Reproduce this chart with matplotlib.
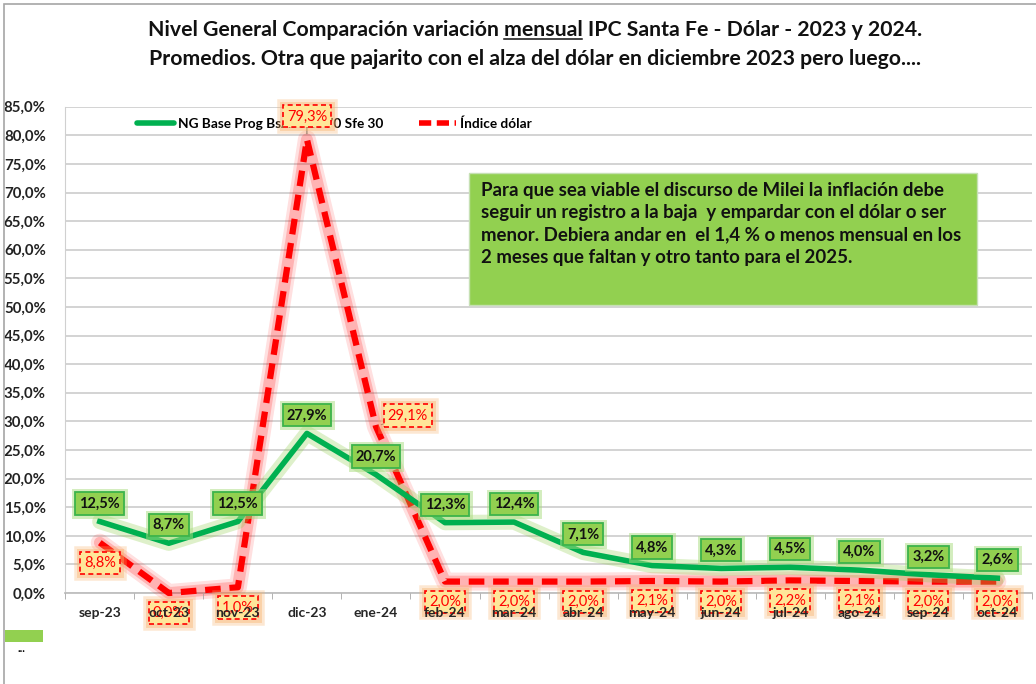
import matplotlib
matplotlib.use("Agg")
import matplotlib.pyplot as plt
import matplotlib.patheffects as pe
from matplotlib.lines import Line2D
from matplotlib.patches import Rectangle

plt.rcParams['font.family'] = ['Lato', 'DejaVu Sans']

# DATA
meses = ["sep-23", "oct-23", "nov-23", "dic-23", "ene-24", "feb-24", "mar-24",
         "abr-24", "may-24", "jun-24", "jul-24", "ago-24", "sep-24", "oct-24"]
ng_base = [12.5, 8.7, 12.5, 27.9, 20.7, 12.3, 12.4, 7.1, 4.8, 4.3, 4.5, 4.0, 3.2, 2.6]
indice_dolar = [8.8, 0.0, 1.0, 79.3, 29.1, 2.0, 2.0, 2.0, 2.1, 2.0, 2.2, 2.1, 2.0, 2.0]
y_ticks = list(range(0, 90, 5))

titulo_1a = "Nivel General Comparación variación "
titulo_1b = "mensual"
titulo_1c = " IPC Santa Fe - Dólar - 2023 y 2024."
titulo_2 = "Promedios. Otra que pajarito con el alza del dólar en diciembre 2023 pero luego...."
nota = ("Para que sea viable el discurso de Milei la inflación debe\n"
        "seguir un registro a la baja  y empardar con el dólar o ser\n"
        "menor. Debiera andar en  el 1,4 % o menos mensual en los\n"
        "2 meses que faltan y otro tanto para el 2025.")


def fmt(v):
    return f"{v:.1f}".replace(".", ",") + "%"


fig = plt.figure(figsize=(10.36, 6.84), dpi=100)
ax = fig.add_axes([0.063, 0.133, 0.933, 0.711])
x = list(range(len(meses)))

# outer chart border
fig.patches.append(Rectangle((4 / 1036, -0.05), 1.2, 1 - 4 / 684 + 0.05, transform=fig.transFigure,
                             fill=False, edgecolor='#A6A6A6', linewidth=1.2))

# lines with soft glow (glow drawn as separate solid lines)
ax.plot(x, indice_dolar, color='#FF0000', linewidth=13, alpha=0.12, clip_on=False, zorder=3,
        solid_joinstyle='round', solid_capstyle='round')
ax.plot(x, indice_dolar, color='#FF0000', linewidth=8.5, alpha=0.2, clip_on=False, zorder=3,
        solid_joinstyle='round', solid_capstyle='round')
ax.plot(x, indice_dolar, color='#FF0000', linewidth=4.5, dashes=(2.5, 1.4), clip_on=False, zorder=4)
ax.plot(x, ng_base, color='#92D050', linewidth=11, alpha=0.3, clip_on=False, zorder=4.5,
        solid_joinstyle='round', solid_capstyle='round')
ax.plot(x, ng_base, color='#00B050', linewidth=4, clip_on=False, zorder=5)

# green labels
for xi, v in zip(x, ng_base):
    a = ax.annotate(fmt(v), (xi, v), xytext=(0, 13), textcoords='offset points', ha='center', va='center',
                    fontsize=10.5, fontweight='bold', color='#111111', zorder=8,
                    bbox=dict(boxstyle='square,pad=0.28', fc='#92D050', ec='#3CB44B', lw=1.3))
    a.get_bbox_patch().set_path_effects([pe.Stroke(linewidth=5, foreground='#A9DC7E', alpha=0.5),
                                         pe.Normal()])

# red labels
red_offsets = {3: (0, 16.5), 4: (23, 8)}
solid = dict(dash_offset=0, dash_list=None)
for xi, v in zip(x, indice_dolar):
    off = red_offsets.get(xi, (0, -14.5))
    kw = {}
    if xi in red_offsets:
        kw['arrowprops'] = dict(arrowstyle='-', color='#595959', lw=0.7, shrinkA=0, shrinkB=4)
    a = ax.annotate(fmt(v), (xi, v), xytext=off, textcoords='offset points', ha='center', va='center',
                    fontsize=10.5, color='#FF0000', zorder=6, annotation_clip=False,
                    bbox=dict(boxstyle='square,pad=0.28', fc='#FFE699', ec='#FF0000', lw=1.2,
                              ls=(0, (3, 2))),
                    **kw)
    a.get_bbox_patch().set_path_effects([pe.Stroke(linewidth=9, foreground='#F8B26A', alpha=0.3,
                                                   dashes=solid),
                                         pe.Stroke(linewidth=5, foreground='#F8B26A', alpha=0.4,
                                                   dashes=solid),
                                         pe.Normal()])

# axes styling
ax.set_xlim(-0.5, len(meses) - 0.5)
ax.set_ylim(0, 85)
ax.set_yticks(y_ticks)
ax.set_yticklabels([fmt(t) for t in y_ticks], fontsize=10.8, fontweight='bold', color='#222222')
ax.set_xticks(x)
ax.set_xticklabels(meses, fontsize=10, fontweight='bold', color='#262626')
ax.set_xticks([i - 0.5 for i in range(len(meses) + 1)], minor=True)
ax.tick_params(axis='x', which='major', length=0, pad=10)
ax.tick_params(axis='x', which='minor', length=4, color='#A6A6A6')
ax.tick_params(axis='y', length=0, pad=14)
ax.yaxis.grid(True, color='#D0D0D0', linewidth=1.3)
ax.set_axisbelow(True)
ax.xaxis.set_zorder(10)
for s in ['top', 'right']:
    ax.spines[s].set_visible(False)
ax.spines['left'].set_color('#D0D0D0')
ax.spines['bottom'].set_color('#BFBFBF')
ax.spines['bottom'].set_linewidth(1.3)

# legend
handles = [Line2D([], [], color='#00B050', lw=4, solid_capstyle='round'),
           Line2D([], [], color='#FF0000', lw=4, dashes=(2.2, 1.0))]
ax.legend(handles, ["NG Base Prog BsAs Ros 70 Sfe 30", "Índice dólar"], ncol=2, frameon=False,
          loc='center left', bbox_to_anchor=(0.062, 0.965), handlelength=2.7, handletextpad=0.3,
          columnspacing=2.6, prop=dict(size=9.8, weight='bold'))

# note box
ax.add_patch(Rectangle((0.418, 0.593), 0.525, 0.271, transform=ax.transAxes, facecolor='#92D050',
                       edgecolor='#C6E0B4', lw=1, zorder=6))
ax.text(0.430, 0.845, nota, transform=ax.transAxes, ha='left', va='top', fontsize=13.4, fontweight='bold',
        color='#111111', linespacing=1.38, zorder=7)

# bottom-left leftover legend swatch
fig.patches.append(Rectangle((5 / 1036, 1 - 642 / 684), 38 / 1036, 12 / 684, transform=fig.transFigure,
                             facecolor='#92D050', edgecolor='none'))
fig.text(18 / 1036, 1 - 649 / 684, "...", fontsize=8, fontweight='bold', va='center')

# title with underlined word
tkw = dict(fontsize=15.3, fontweight='bold', color='#111111')
titulo_1 = titulo_1a + titulo_1b + titulo_1c
t1 = fig.text(0.516, 1 - 30 / 684, titulo_1, ha='center', va='center', **tkw)
fig.text(0.516, 1 - 59 / 684, titulo_2, ha='center', va='center', **tkw)
r = fig.canvas.get_renderer()
full_w = t1.get_window_extent(r)
tmp = fig.text(0, 0, titulo_1a, **tkw)
pre_w = tmp.get_window_extent(r).width
tmp.remove()
tmp = fig.text(0, 0, titulo_1b, **tkw)
word_w = tmp.get_window_extent(r).width
tmp.remove()
x0 = full_w.x0 + pre_w
yline = full_w.y0 + 1
fig.add_artist(Line2D([x0 / 1036, (x0 + word_w) / 1036], [yline / 684, yline / 684],
                      transform=fig.transFigure, color='#111111', lw=1.1))

fig.savefig("out.png", dpi=100)
